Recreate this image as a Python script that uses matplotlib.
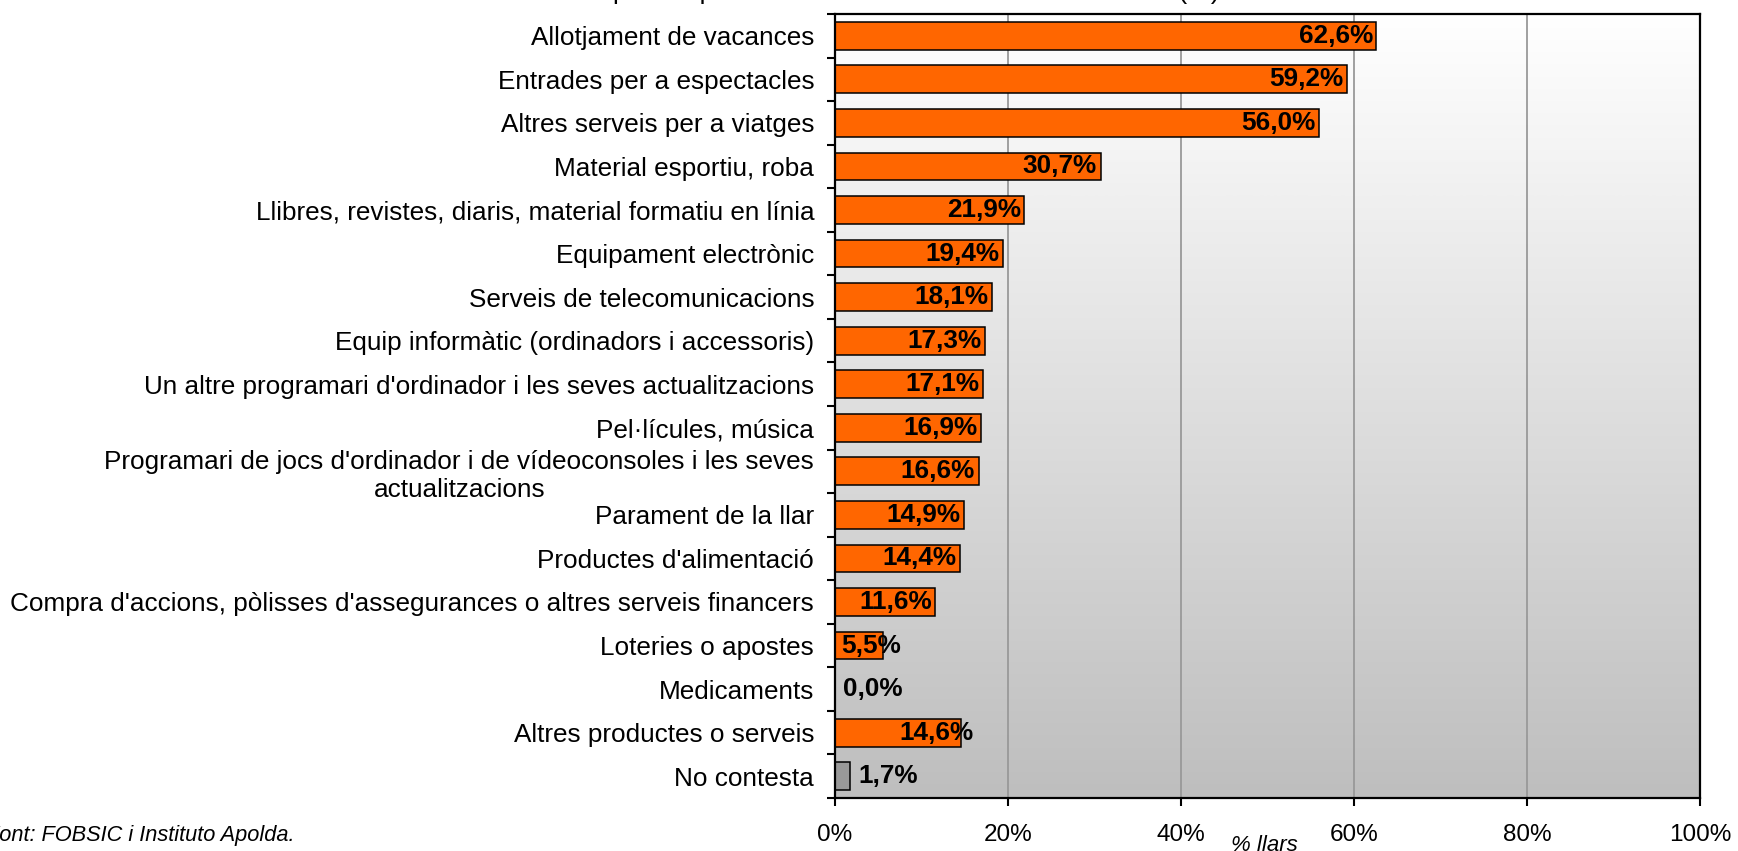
import numpy as np
import matplotlib.pyplot as plt
from matplotlib.colors import LinearSegmentedColormap

plt.rcParams['font.family'] = ['Liberation Sans', 'DejaVu Sans']

categories = [
    'Allotjament de vacances',
    'Entrades per a espectacles',
    'Altres serveis per a viatges',
    'Material esportiu, roba',
    'Llibres, revistes, diaris, material formatiu en línia',
    'Equipament electrònic',
    'Serveis de telecomunicacions',
    'Equip informàtic (ordinadors i accessoris)',
    "Un altre programari d'ordinador i les seves actualitzacions",
    'Pel·lícules, música',
    "Programari de jocs d'ordinador i de vídeoconsoles i les seves\nactualitzacions",
    'Parament de la llar',
    "Productes d'alimentació",
    "Compra d'accions, pòlisses d'assegurances o altres serveis financers",
    'Loteries o apostes',
    'Medicaments',
    'Altres productes o serveis',
    'No contesta',
]
values = [62.6, 59.2, 56.0, 30.7, 21.9, 19.4, 18.1, 17.3, 17.1, 16.9,
          16.6, 14.9, 14.4, 11.6, 5.5, 0.0, 14.6, 1.7]
xticks = [0, 20, 40, 60, 80, 100]
title = 'Tipus de productes o serveis demanats a Internet (%)'
source = 'Font: FOBSIC i Instituto Apolda.'
xlabel = '% llars'

W, H = 1738, 851
fig = plt.figure(figsize=(W / 100, H / 100), dpi=100)
ax = fig.add_axes([835 / W, 1 - 798 / H, (1700 - 835) / W, (798 - 14) / H])

n = len(categories)
y = np.arange(n)

# grey gradient behind the plot area
grad = np.linspace(0, 1, 256).reshape(-1, 1)
cmap = LinearSegmentedColormap.from_list('bg', ['#FFFFFF', '#BEBEBE'])
ax.imshow(grad, cmap=cmap, aspect='auto', extent=[0, 100, n - 0.5, -0.5],
          zorder=0, interpolation='bicubic')

for gx in xticks[1:-1]:
    ax.axvline(gx, color='#999999', lw=1.3, zorder=1)

colors = ['#999999' if c == 'No contesta' else '#FF6600' for c in categories]
ax.barh(y, values, height=0.64, color=colors, edgecolor='black', linewidth=1.1, zorder=2)

# value labels: inside the bar end, or just past it for the small ones
shift = {'Loteries o apostes': 13, 'Altres productes o serveis': 9}
for cat, yi, v in zip(categories, y, values):
    txt = f'{v:.1f}%'.replace('.', ',')
    if cat in shift:
        ax.annotate(txt, (v, yi), xytext=(shift[cat], 0), textcoords='offset points',
                    ha='right', va='center', fontsize=18.8, fontweight='bold', zorder=3)
    elif v < 5:
        ax.annotate(txt, (v, yi), xytext=(6, 0), textcoords='offset points',
                    ha='left', va='center', fontsize=18.8, fontweight='bold', zorder=3)
    else:
        ax.annotate(txt, (v, yi), xytext=(-2.5, 0), textcoords='offset points',
                    ha='right', va='center', fontsize=18.8, fontweight='bold', zorder=3)

ax.set_xlim(0, 100)
ax.set_ylim(n - 0.5, -0.5)
ax.set_xticks(xticks)
ax.set_xticklabels([f'{t}%' for t in xticks], fontsize=17.5)
ax.tick_params(axis='x', length=6, width=1.5, pad=13, direction='out')

ax.set_yticks(y)
ax.set_yticklabels(categories, fontsize=18.8, linespacing=1.2, multialignment='center')
ax.tick_params(axis='y', which='major', length=0, pad=15)
ax.set_yticks(np.arange(n + 1) - 0.5, minor=True)
ax.tick_params(axis='y', which='minor', length=6, width=1.5, direction='out')

for s in ax.spines.values():
    s.set_linewidth(1.6)
    s.set_color('black')

fig.text(1264 / W, 1 - 835 / H, xlabel, ha='center', va='top', fontsize=16, style='italic')
fig.text(-14 / W, 1 - 841 / H, source, ha='left', va='baseline', fontsize=15.7, style='italic')
fig.text(1220 / W, 1 + 1 / H, title, ha='right', va='baseline', fontsize=19)

fig.savefig('out.png', dpi=100)
